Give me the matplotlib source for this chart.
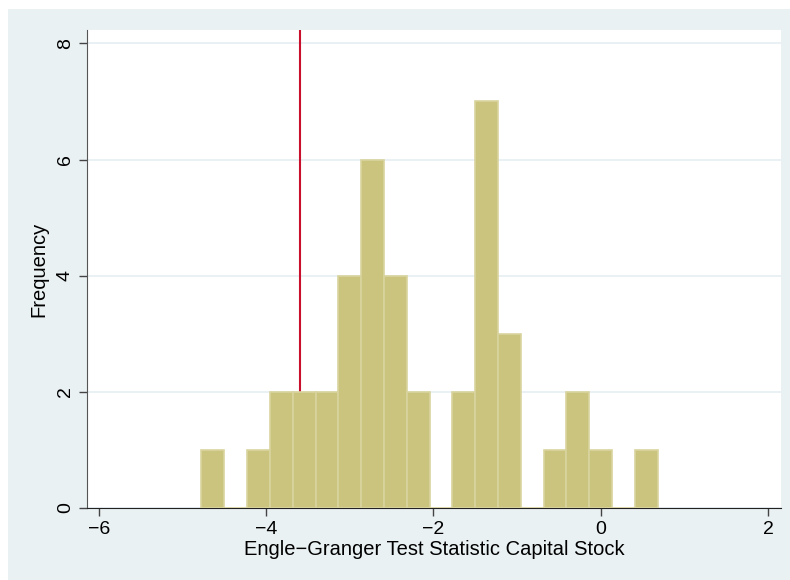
import numpy as np
import matplotlib
matplotlib.use("Agg")
import matplotlib.pyplot as plt
from matplotlib.patches import Rectangle

plt.rcParams['font.family'] = ['Liberation Sans', 'DejaVu Sans']

# histogram of the test statistic: 20 bins from -4.772 to 0.683
bin_start = -4.772
bin_width = 0.2727
counts = [1, 0, 1, 2, 2, 2, 4, 6, 4, 2, 0, 2, 7, 3, 0, 1, 2, 1, 0, 1]
critical_value = -3.59

x_ticks = [-6, -4, -2, 0, 2]
y_ticks = [0, 2, 4, 6, 8]

bg = '#EAF1F3'
bar_color = '#CBC47F'
bar_edge = '#D9D49E'

fig = plt.figure(figsize=(7.9, 5.8), dpi=100, facecolor='white')
fig.patches.append(Rectangle((8 / 790, 0), 1, 1 - 9 / 580, transform=fig.transFigure,
                             facecolor=bg, edgecolor='none', zorder=-10))

ax = fig.add_axes([87 / 790, 72 / 580, 694 / 790, 478 / 580])
ax.set_facecolor('white')

edges = bin_start + bin_width * np.arange(len(counts))
ax.bar(edges, counts, width=bin_width, align='edge', color=bar_color,
       edgecolor=bar_edge, linewidth=1.2, zorder=3)
ax.axvline(critical_value, color='#C8102E', linewidth=1.5, zorder=2)

ax.set_xlim(-6.14, 2.156)
ax.set_ylim(0, 8.23)
ax.set_xticks(x_ticks)
ax.set_xticklabels([str(t).replace('-', '\u2212') for t in x_ticks])
ax.set_yticks(y_ticks)
ax.set_yticklabels([str(t) for t in y_ticks], rotation=90, va='center')
ax.yaxis.grid(True, color='#E6EFF2', linewidth=1.2, zorder=0)
ax.set_axisbelow(True)

for s in ['top', 'right']:
    ax.spines[s].set_visible(False)
ax.spines['left'].set_color('#555555')
ax.spines['bottom'].set_color('#222222')
ax.tick_params(axis='both', direction='out', length=6, width=1, color='#444444',
               labelsize=14)

ax.set_xlabel('Engle\u2212Granger Test Statistic Capital Stock', fontsize=14.5, labelpad=1)
ax.set_ylabel('Frequency', fontsize=14.5, labelpad=6)

fig.savefig('out.png', dpi=100, facecolor='white')
